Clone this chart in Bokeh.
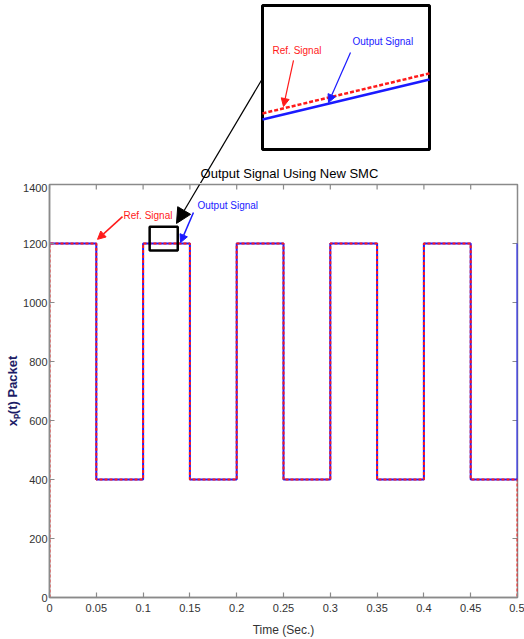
from bokeh.plotting import figure
from bokeh.models import Range1d, FixedTicker, Arrow, NormalHead, Label
from bokeh.layouts import column
from bokeh.embed import file_html
from bokeh.resources import INLINE

# ---------------- data ----------------
switch_times = [0.0, 0.05, 0.10, 0.15, 0.20, 0.25, 0.30, 0.35, 0.40, 0.45, 0.50]
ref_start = [0.0]
ref_start_level = [0]
ref_levels = [1200, 400, 1200, 400, 1200, 400, 1200, 400, 1200, 400, 0]
out_levels = [1200, 400, 1200, 400, 1200, 400, 1200, 400, 1200, 400, 1200]

x_ticks = [0.0, 0.05, 0.10, 0.15, 0.20, 0.25, 0.30, 0.35, 0.40, 0.45, 0.50]
x_tick_labels = ["0", "0.05", "0.1", "0.15", "0.2", "0.25", "0.3", "0.35", "0.4", "0.45", "0.5"]
y_ticks = [0, 200, 400, 600, 800, 1000, 1200, 1400]

# zoomed detail (inset)
zoom_t = [0.107, 0.137]
zoom_y = [1176, 1257]
zoom_ref = [1196.3, 1218.8]
zoom_out = [1192.9, 1215.4]

FONT = "Liberation Sans"
AX = "#8a8a8a"
RED = "#ff1a1a"
BLUE = "#1a1aff"

X0, X1 = 0.0, 0.5
Y0, Y1 = 0, 1400

# ---------------- main figure ----------------
p = figure(width=524, height=456, x_range=Range1d(X0, X1), y_range=Range1d(Y0, Y1),
           output_backend="svg", toolbar_location=None,
           min_border_left=49, min_border_right=7, min_border_top=1, min_border_bottom=42)
p.xgrid.visible = False
p.ygrid.visible = False
p.outline_line_color = AX
p.outline_line_width = 1.5

xax = p.below[0]
yax = p.left[0]
xax.ticker = FixedTicker(ticks=x_ticks)
yax.ticker = FixedTicker(ticks=y_ticks)
for ax in [xax, yax]:
    ax.axis_line_color = AX
    ax.axis_line_width = 1.5
    ax.major_tick_line_color = AX
    ax.major_tick_line_width = 1.2
    ax.major_tick_in = 5
    ax.major_tick_out = 0
    ax.minor_tick_line_color = None
    ax.major_label_text_font = FONT
    ax.major_label_text_font_size = "11px"
    ax.major_label_text_color = "#333333"
    ax.major_label_standoff = 6

xax.major_label_overrides = {tv: lab for tv, lab in zip(x_ticks, x_tick_labels)}
xax.axis_label = "Time (Sec.)"
xax.axis_label_text_font = FONT
xax.axis_label_text_font_size = "12px"
xax.axis_label_text_font_style = "normal"
xax.axis_label_text_color = "#333333"
xax.axis_label_standoff = 8

yax.major_label_standoff = 2
yax.axis_label = "xₚ(t) Packet"
yax.axis_label_text_font = FONT
yax.axis_label_text_font_size = "13px"
yax.axis_label_text_font_style = "bold"
yax.axis_label_text_color = "#1c1c66"
yax.axis_label_standoff = 0

# box ticks on top and right edges (MATLAB style)
tick_dy = (Y1 - Y0) * 5 / 413
tick_dx = (X1 - X0) * 5 / 468
p.segment(x0=x_ticks, y0=[Y1] * len(x_ticks), x1=x_ticks, y1=[Y1 - tick_dy] * len(x_ticks),
          line_color=AX, line_width=1.2)
p.segment(x0=[X1] * len(y_ticks), y0=y_ticks, x1=[X1 - tick_dx] * len(y_ticks), y1=y_ticks,
          line_color=AX, line_width=1.2)

# signals
p.step(switch_times, out_levels, mode="after", line_color=BLUE, line_width=2)
p.step(ref_start + switch_times, ref_start_level + ref_levels, mode="after",
       line_color=RED, line_width=2, line_dash="3 2")

# zoom box
p.quad(left=[zoom_t[0]], right=[zoom_t[1]], bottom=[zoom_y[0]], top=[zoom_y[1]],
       fill_color=None, line_color="black", line_width=2.5)

# annotations in main plot
p.add_layout(Label(x=0.0791, y=1295, text="Ref. Signal", text_color=RED, text_font=FONT,
                   text_font_size="10px", text_baseline="middle"))
p.add_layout(Arrow(x_start=0.078, y_start=1291, x_end=0.0513, y_end=1214,
                   line_color=RED, line_width=1.5,
                   end=NormalHead(size=8, fill_color=RED, line_color=RED)))
p.add_layout(Label(x=0.1581, y=1329, text="Output Signal", text_color=BLUE, text_font=FONT,
                   text_font_size="10px", text_baseline="middle"))
p.add_layout(Arrow(x_start=0.1538, y_start=1305, x_end=0.1400, y_end=1203,
                   line_color=BLUE, line_width=1.5,
                   end=NormalHead(size=8, fill_color=BLUE, line_color=BLUE)))
# connector arrow (lower part)
p.add_layout(Arrow(x_start=0.1692, y_start=1447.5, x_end=0.1357, y_end=1268,
                   line_color="black", line_width=1.2,
                   end=NormalHead(size=15, fill_color="black", line_color="black")))

# ---------------- top strip: title + magnified inset ----------------
q = figure(width=524, height=183, x_range=Range1d(0.068737, 0.152808),
           y_range=Range1d(1156.875, 1259.81),
           output_backend="svg", toolbar_location=None,
           x_axis_location=None, y_axis_location=None,
           min_border_left=49, min_border_right=7, min_border_top=0, min_border_bottom=0)
q.grid.visible = False
q.outline_line_color = None

q.quad(left=[zoom_t[0]], right=[zoom_t[1]], bottom=[zoom_y[0]], top=[zoom_y[1]],
       fill_color="white", line_color="black", line_width=3)
q.line(zoom_t, zoom_out, line_color=BLUE, line_width=2.5)
q.line(zoom_t, zoom_ref, line_color=RED, line_width=2.5, line_dash="4 2")

q.add_layout(Label(x=0.1088, y=1231.7, text="Ref. Signal", text_color=RED, text_font=FONT,
                   text_font_size="10px", text_baseline="middle"))
q.add_layout(Arrow(x_start=0.11257, y_start=1226.1, x_end=0.11077, y_end=1200.2,
                   line_color=RED, line_width=1.2,
                   end=NormalHead(size=8, fill_color=RED, line_color=RED)))
q.add_layout(Label(x=0.12317, y=1236.75, text="Output Signal", text_color=BLUE, text_font=FONT,
                   text_font_size="10px", text_baseline="middle"))
q.add_layout(Arrow(x_start=0.12281, y_start=1230.6, x_end=0.11886, y_end=1202.4,
                   line_color=BLUE, line_width=1.2,
                   end=NormalHead(size=8, fill_color=BLUE, line_color=BLUE)))
# connector arrow (upper part, no head)
q.add_layout(Arrow(x_start=0.107, y_start=1215.9, x_end=0.09507, y_end=1152.9,
                   line_color="black", line_width=1.2, end=None))

# chart title
q.add_layout(Label(x=0.11184, y=1162.5, text="Output Signal Using New SMC", text_font=FONT,
                   text_font_size="13px", text_color="#000000", text_align="center",
                   text_baseline="middle"))

layout = column(q, p, spacing=0)
open("out.html", "w").write(file_html(layout, INLINE))
